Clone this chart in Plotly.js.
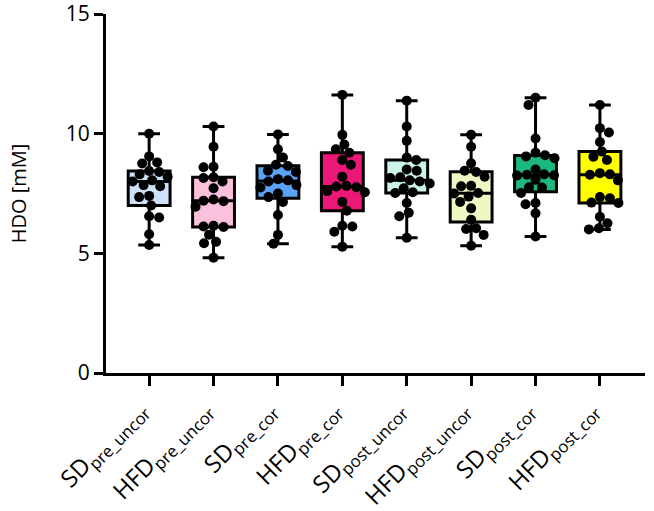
<!DOCTYPE html>
<html><head><meta charset="utf-8">
<script src="https://cdn.plot.ly/plotly-3.0.1.min.js"></script>
<style>html,body{margin:0;padding:0;background:#fff}</style>
</head><body><div id="chart" style="width:654px;height:511px"></div>
<script>
// ---- data ----
const groupNames = ['SD_pre_uncor','HFD_pre_uncor','SD_pre_cor','HFD_pre_cor','SD_post_uncor','HFD_post_uncor','SD_post_cor','HFD_post_cor'];
const tickLabels = ['SD<sub>pre_uncor</sub>','HFD<sub>pre_uncor</sub>','SD<sub>pre_cor</sub>','HFD<sub>pre_cor</sub>','SD<sub>post_uncor</sub>','HFD<sub>post_uncor</sub>','SD<sub>post_cor</sub>','HFD<sub>post_cor</sub>'];
const SD_pre_uncor   = [5.35, 5.8, 6.5, 6.55, 7.0, 7.35, 7.4, 7.8, 7.85, 8.0, 8.05, 8.2, 8.3, 8.4, 8.44, 8.75, 8.8, 9.05, 10.0];
const HFD_pre_uncor  = [4.82, 5.42, 5.48, 5.78, 6.1, 6.12, 6.15, 6.95, 7.18, 7.2, 7.25, 7.72, 8.0, 8.15, 8.18, 8.6, 8.62, 9.45, 10.3];
const SD_pre_cor     = [5.4, 5.77, 6.6, 7.15, 7.35, 7.5, 7.75, 7.85, 8.0, 8.05, 8.1, 8.4, 8.45, 8.65, 8.7, 9.0, 9.35, 9.97];
const HFD_pre_cor    = [5.28, 5.9, 6.12, 6.15, 6.78, 7.15, 7.55, 7.6, 7.76, 7.79, 7.82, 8.2, 8.7, 8.9, 9.2, 9.35, 9.55, 9.95, 11.62];
const SD_post_uncor  = [5.65, 6.55, 6.7, 7.1, 7.52, 7.55, 7.72, 7.92, 8.0, 8.05, 8.15, 8.18, 8.45, 8.5, 8.9, 9.0, 9.7, 10.3, 11.38];
const HFD_post_uncor = [5.32, 5.77, 6.02, 6.05, 6.4, 6.88, 7.15, 7.37, 7.5, 7.52, 7.8, 7.82, 8.2, 8.4, 8.45, 8.76, 9.45, 9.95];
const SD_post_cor    = [5.7, 6.67, 7.05, 7.1, 7.52, 7.75, 7.76, 8.07, 8.25, 8.26, 8.28, 8.3, 8.5, 8.97, 9.05, 9.1, 9.2, 9.8, 11.2, 11.5];
const HFD_post_cor   = [6.0, 6.05, 6.26, 6.53, 7.1, 7.12, 7.3, 7.35, 8.05, 8.28, 8.3, 8.35, 8.9, 9.04, 9.25, 9.65, 10.05, 10.23, 11.2];
const fillColors = ['#cde1f8','#fbc0dc','#5aa3f4','#ec1878','#cdf4ea','#eef8c4','#1db87e','#ffff00'];

const groups = [SD_pre_uncor, HFD_pre_uncor, SD_pre_cor, HFD_pre_cor, SD_post_uncor, HFD_post_uncor, SD_post_cor, HFD_post_cor];

// ---- layout constants ----
const W = 654, H = 511;
const M = {l:106, r:9, t:14, b:138};
const xr = [-0.67, 7.70], yr = [0, 15];
const pxX = (W - M.l - M.r) / (xr[1] - xr[0]);
const pxY = (H - M.t - M.b) / (yr[1] - yr[0]);
const dotD = 10;

function quant(s, p) {
  const n = s.length;
  let pos = (n + 1) * p;
  if (pos < 1) pos = 1;
  if (pos > n) pos = n;
  const lo = Math.floor(pos), f = pos - lo;
  if (lo >= n) return s[n - 1];
  return s[lo - 1] + f * (s[lo] - s[lo - 1]);
}

function swarm(vals) {
  const order = vals.map((v, i) => i).sort((a, b) => vals[b] - vals[a]);
  const placed = [];
  const offs = new Array(vals.length).fill(0);
  order.forEach((idx, k) => {
    const y = vals[idx] * pxY;
    let chosen = 0;
    for (let s = 0; s < 200; s += 0.5) {
      const cands = (k % 2 === 0) ? [s, -s] : [-s, s];
      let ok = null;
      for (const c of cands) {
        if (placed.every(p => (p.x - c) ** 2 + (p.y - y) ** 2 >= dotD * dotD * 0.95)) { ok = c; break; }
      }
      if (ok !== null) { chosen = ok; break; }
    }
    placed.push({x: chosen, y: y});
    offs[idx] = chosen / pxX;
  });
  return offs;
}

const traces = [];
groups.forEach((g, i) => {
  const s = g.slice().sort((a, b) => a - b);
  traces.push({
    type: 'box', x: [i], q1: [quant(s, 0.25)], median: [quant(s, 0.5)], q3: [quant(s, 0.75)],
    lowerfence: [s[0]], upperfence: [s[s.length - 1]],
    fillcolor: fillColors[i], line: {color: '#000', width: 3},
    width: 0.65, whiskerwidth: 0.52, boxpoints: false, showlegend: false, hoverinfo: 'skip'
  });
});
groups.forEach((g, i) => {
  const offs = swarm(g);
  traces.push({
    type: 'scatter', mode: 'markers', x: g.map((v, k) => i + offs[k]), y: g,
    marker: {color: '#000', size: dotD, line: {width: 0}}, showlegend: false, hoverinfo: 'skip', cliponaxis: false
  });
});

const layout = {
  width: W, height: H, margin: M, paper_bgcolor: '#fff', plot_bgcolor: '#fff',
  font: {family: 'Open Sans, sans-serif', color: '#000'},
  showlegend: false, boxmode: 'overlay',
  xaxis: {
    range: xr, tickvals: groupNames.map((n, i) => i), ticktext: tickLabels, tickangle: -45,
    showgrid: false, zeroline: false, showline: true, linewidth: 3, linecolor: '#000',
    ticks: 'outside', ticklen: 10, tickwidth: 3, tickcolor: '#000', ticklabelshift: -9,
    tickfont: {size: 24, family: 'Open Sans, sans-serif', color: '#000'}
  },
  yaxis: {
    range: yr, tickvals: [0, 5, 10, 15], showgrid: false, zeroline: false,
    showline: true, linewidth: 3, linecolor: '#000',
    ticks: 'outside', ticklen: 9, tickwidth: 3, tickcolor: '#000', ticklabeloverflow: 'allow',
    tickfont: {size: 21, family: 'Open Sans, sans-serif', color: '#000'},
    title: {text: 'HDO [mM]', font: {size: 20, family: 'Open Sans, sans-serif', color: '#000'}, standoff: 34}
  }
};
Plotly.newPlot('chart', traces, layout, {displayModeBar: false, staticPlot: true});
</script></body></html>
